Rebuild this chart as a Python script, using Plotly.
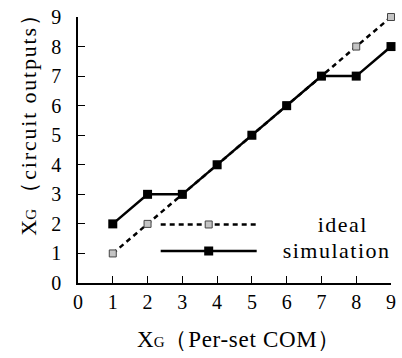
import plotly.graph_objects as go

# Per-set COM inputs and the corresponding circuit outputs
x_vals = [1, 2, 3, 4, 5, 6, 7, 8, 9]
ideal = [1, 2, 3, 4, 5, 6, 7, 8, 9]
simulation = [2, 3, 3, 4, 5, 6, 7, 7, 8]
tick_vals = [0, 1, 2, 3, 4, 5, 6, 7, 8, 9]

FONT = "Liberation Serif"
NB = "\u00a0"


def styled(text, size, spacing=0.0):
    return (f'<span style="font-size:{size}px;letter-spacing:{spacing}px">'
            f'{text}</span>')


fig = go.Figure()
fig.add_trace(go.Scatter(
    x=x_vals, y=ideal, mode="lines+markers",
    name=styled(NB * 8 + "ideal", 22, 1.5),
    line=dict(color="black", width=2.5, dash="5px,4px"),
    marker=dict(symbol="square", size=7, color="#c4c4c4",
                line=dict(color="#444", width=1)),
    cliponaxis=False,
))
fig.add_trace(go.Scatter(
    x=x_vals, y=simulation, mode="lines+markers",
    name=styled(NB * 3 + "simulation", 22, 1.5),
    line=dict(color="black", width=2.5),
    marker=dict(symbol="square", size=9, color="black",
                line=dict(color="black", width=0)),
    cliponaxis=False,
))

axis_common = dict(
    showgrid=False, zeroline=False, showline=True, linecolor="black",
    linewidth=1.5, ticks="inside", ticklen=7, tickcolor="black",
    tickwidth=1, tickfont=dict(family=FONT, size=20, color="black"),
    tickvals=tick_vals, fixedrange=True,
)

fig.update_layout(
    width=402, height=358,
    margin=dict(l=78, r=6, t=15, b=75),
    paper_bgcolor="white", plot_bgcolor="white",
    font=dict(family=FONT, color="black"),
    xaxis=dict(range=[0, 9], **axis_common),
    yaxis=dict(range=[0, 9], ticklabelstandoff=11, **axis_common),
    legend=dict(
        x=1.015, y=0.17, xanchor="right", yanchor="middle",
        bgcolor="rgba(0,0,0,0)", itemwidth=96,
        font=dict(family=FONT, size=18, color="black"),
        tracegroupgap=0,
    ),
    showlegend=True,
)

fig.add_annotation(
    text='X<span style="font-size:15px">G</span>' + styled("（Per-set COM）", 23, 0.7),
    xref="paper", yref="paper", x=0.515, y=-0.212,
    xanchor="center", yanchor="middle", showarrow=False,
    font=dict(family=FONT, size=23, color="black"),
)
fig.add_annotation(
    text='X<span style="font-size:15px">G</span> ' + styled("（circuit outputs）", 22, 1.8),
    xref="paper", yref="paper", x=-0.157, y=0.617,
    xanchor="center", yanchor="middle", showarrow=False, textangle=-90,
    font=dict(family=FONT, size=22, color="black"),
)

fig.write_html("out.html")
